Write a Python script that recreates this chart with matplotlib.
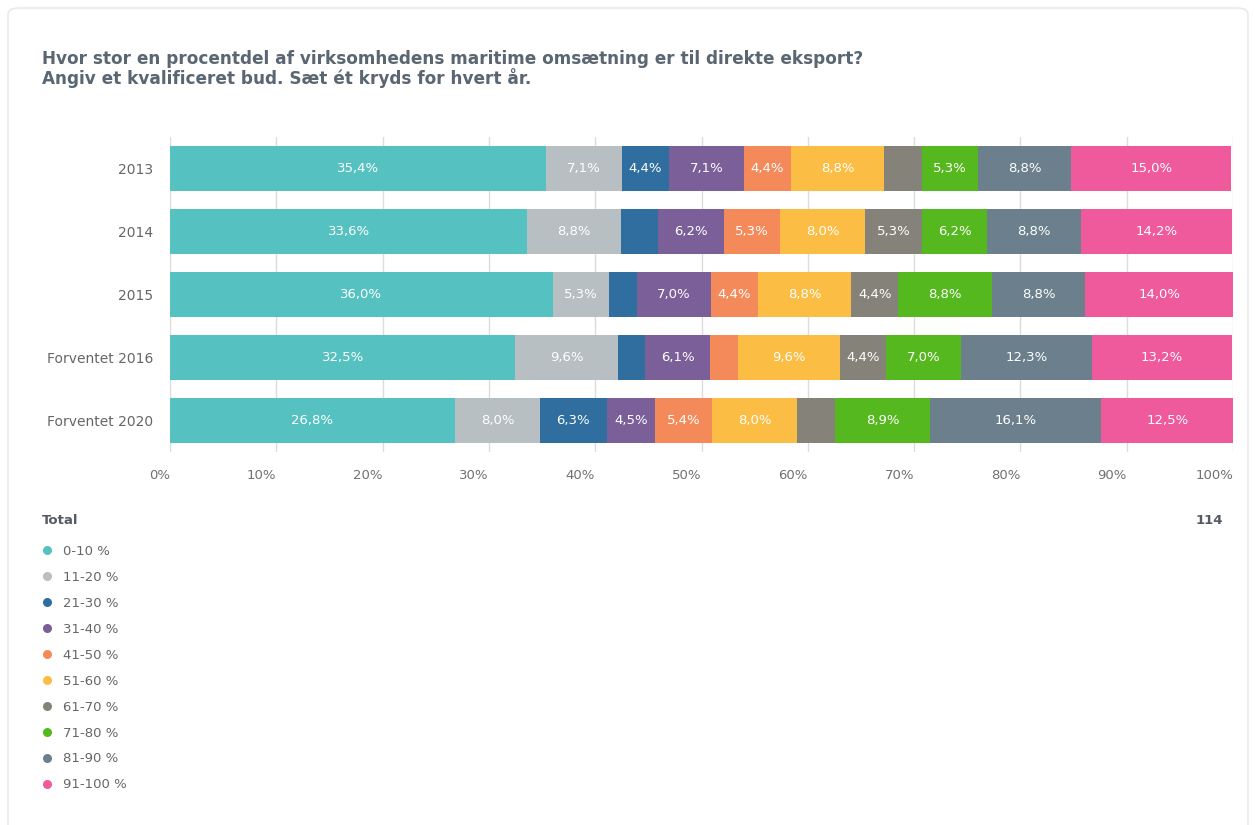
import matplotlib
matplotlib.use("Agg")
import matplotlib.pyplot as plt
from matplotlib.patches import FancyBboxPatch
from matplotlib.lines import Line2D
import numpy as np

plt.rcParams['font.family'] = ['DejaVu Sans']

years = ["2013", "2014", "2015", "Forventet 2016", "Forventet 2020"]
groups = ["0-10 %", "11-20 %", "21-30 %", "31-40 %", "41-50 %",
          "51-60 %", "61-70 %", "71-80 %", "81-90 %", "91-100 %"]
colors = ["#55c1c0", "#b7bfc2", "#2f6e9e", "#7a5f99", "#f48a5a",
          "#fbbd44", "#85827a", "#55b81e", "#6b808c", "#ee5a9c"]

share_0_10 = [35.4, 33.6, 36.0, 32.5, 26.8]
share_11_20 = [7.1, 8.8, 5.3, 9.6, 8.0]
share_21_30 = [4.4, 3.5, 2.6, 2.6, 6.3]
share_31_40 = [7.1, 6.2, 7.0, 6.1, 4.5]
share_41_50 = [4.4, 5.3, 4.4, 2.6, 5.4]
share_51_60 = [8.8, 8.0, 8.8, 9.6, 8.0]
share_61_70 = [3.5, 5.3, 4.4, 4.4, 3.6]
share_71_80 = [5.3, 6.2, 8.8, 7.0, 8.9]
share_81_90 = [8.8, 8.8, 8.8, 12.3, 16.1]
share_91_100 = [15.0, 14.2, 14.0, 13.2, 12.5]

series = [share_0_10, share_11_20, share_21_30, share_31_40, share_41_50,
          share_51_60, share_61_70, share_71_80, share_81_90, share_91_100]

total_n = "114"
title = ("Hvor stor en procentdel af virksomhedens maritime omsætning er til direkte eksport?\n"
         "Angiv et kvalificeret bud. Sæt ét kryds for hvert år.")

W, H = 1255, 825
fig = plt.figure(figsize=(W / 100, H / 100), dpi=100)
fig.patch.set_facecolor("white")

# Card outline around the whole chart
card = FancyBboxPatch((8 / W, -0.02), (1240 / W), 1 - 8 / H + 0.02,
                      boxstyle="round,pad=0,rounding_size=0.008",
                      transform=fig.transFigure, facecolor="none",
                      edgecolor="#e6e6e6", linewidth=1.0, zorder=-5)
fig.patches.append(card)

ax = fig.add_axes([170 / W, 1 - 452 / H, (1233 - 170) / W, (452 - 137) / H])
ax.set_facecolor("none")

y = np.arange(len(years))
left = np.zeros(len(years))
for vals, col in zip(series, colors):
    vals = np.array(vals)
    ax.barh(y, vals, left=left, height=0.71, color=col, edgecolor="none", zorder=3)
    for yi, v, l in zip(y, vals, left):
        if v >= 4.0:
            ax.text(l + v / 2, yi, f"{v:.1f}%".replace(".", ","), ha="center", va="center",
                    color="white", fontsize=9.5, zorder=4)
    left += vals

ax.set_xlim(0, 100)
ax.set_ylim(len(years) - 0.5, -0.5)
ax.set_xticks(np.arange(0, 101, 10))
ax.set_xticklabels([f"{t}%" for t in range(0, 101, 10)])
for lab in ax.get_xticklabels():
    lab.set_horizontalalignment("right")
ax.set_yticks(y)
ax.set_yticklabels(years)
ax.grid(axis="x", color="#dcdcdc", linewidth=1.0, zorder=0)
ax.tick_params(axis="x", length=0, pad=12, labelsize=9.5, labelcolor="#707070")
ax.tick_params(axis="y", length=0, pad=12, labelsize=10, labelcolor="#666666")
for s in ax.spines.values():
    s.set_visible(False)

fig.text(42 / W, 1 - 50 / H, title, ha="left", va="top", fontsize=12.2,
         fontweight="bold", color="#5a6672", linespacing=1.0)

fig.text(42 / W, 1 - 521 / H, "Total", ha="left", va="center", fontsize=9.5,
         fontweight="bold", color="#555b61")
fig.text(1223 / W, 1 - 521 / H, total_n, ha="right", va="center", fontsize=9.5,
         fontweight="bold", color="#555b61")

handles = [Line2D([], [], linestyle="none", marker="o", markersize=6.5,
                  markerfacecolor=c, markeredgecolor="none") for c in colors]
fig.legend(handles, groups, loc="upper left", bbox_to_anchor=(40 / W, 1 - 545 / H),
           frameon=False, fontsize=9.5, labelcolor="#666666", handlelength=1.0,
           handletextpad=0.75, labelspacing=0.98, borderaxespad=0, borderpad=0)

fig.savefig("out.png", dpi=100, facecolor="white")
